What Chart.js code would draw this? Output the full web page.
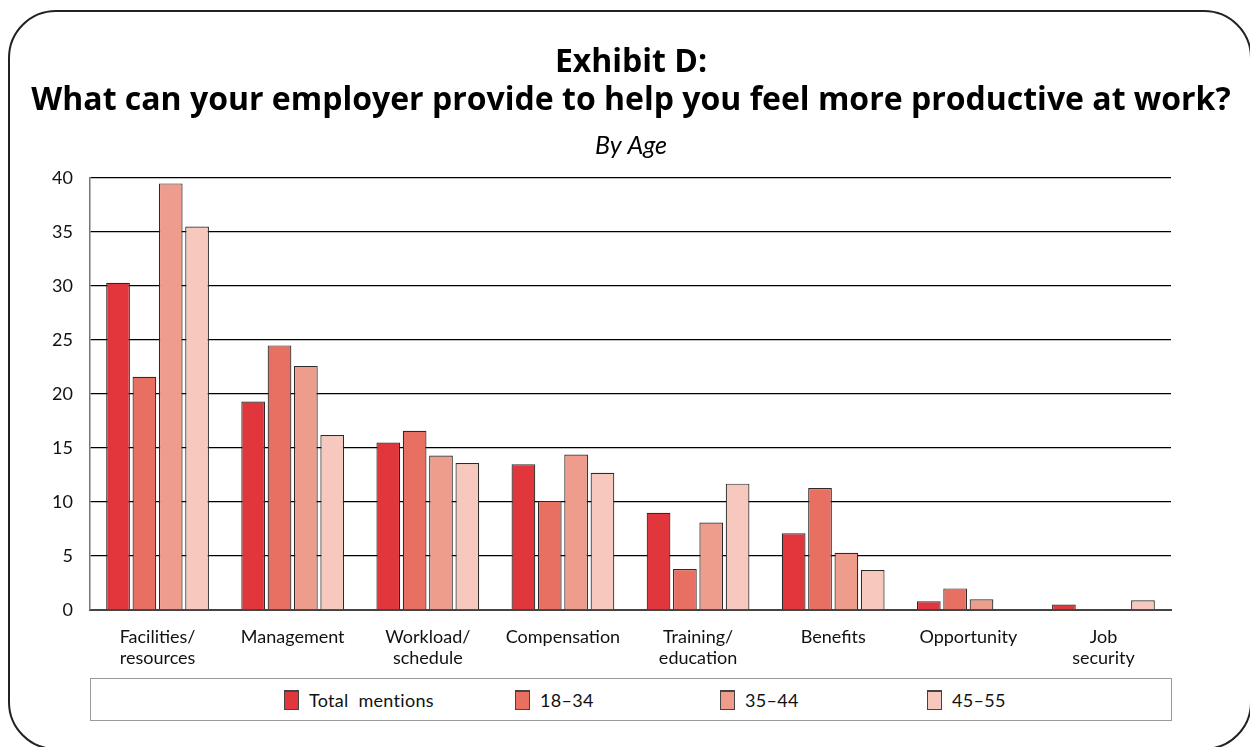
<!DOCTYPE html>
<html>
<head>
<meta charset="utf-8">
<script src="https://cdn.jsdelivr.net/npm/chart.js@4/dist/chart.umd.min.js"></script>
<style>
  html, body { margin: 0; padding: 0; background: #fff; }
  body { width: 1250px; height: 747px; position: relative; overflow: hidden; font-family: Lato, "Open Sans", sans-serif; }
  #frame {
    position: absolute; left: 8px; top: 10px; width: 1244px; height: 740px;
    box-sizing: border-box; border: 2.5px solid #222; border-radius: 48px;
  }
  #wrap { position: absolute; left: 0; top: 0; width: 1250px; height: 747px; }
  #legend {
    position: absolute; left: 90px; top: 678px; width: 1082px; height: 43px;
    box-sizing: border-box; border: 1.5px solid #9a9a9a; background: #fff;
    display: flex; align-items: center; padding-left: 193px;
    font-size: 18px; letter-spacing: 0.3px; color: #111;
  }
  .item { display: flex; align-items: center; }
  .swatch { width: 15px; height: 20px; box-sizing: border-box; border: 1px solid #444; border-top: 2px solid #444; margin-right: 10px; }
</style>
</head>
<body>
<div id="frame"></div>
<div id="wrap"><canvas id="chart" width="1250" height="747"></canvas></div>
<div id="legend"></div>
<script>
(function () {
    "use strict";

    const categories = [
        ["Facilities/", "resources"],
        "Management",
        ["Workload/", "schedule"],
        "Compensation",
        ["Training/", "education"],
        "Benefits",
        "Opportunity",
        ["Job", "security"]
    ];
    const seriesNames = ["Total  mentions", "18\u201334", "35\u201344", "45\u201355"];
    const totalMentions = [30.3, 19.3, 15.5, 13.5, 9.0, 7.1, 0.8, 0.5];
    const age18to34 = [21.6, 24.5, 16.6, 10.1, 3.8, 11.3, 2.0, 0];
    const age35to44 = [39.5, 22.6, 14.3, 14.4, 8.1, 5.3, 1.0, 0.1];
    const age45to55 = [35.5, 16.2, 13.6, 12.7, 11.7, 3.7, 0, 0.9];
    const yTicks = [0, 5, 10, 15, 20, 25, 30, 35, 40];

    const colors = ["#E2363D", "#E87063", "#EE9C8B", "#F7C9BE"];
    const values = [totalMentions, age18to34, age35to44, age45to55];

    const fontFamily = "Lato, 'Open Sans', sans-serif";

    const ctx = document.getElementById("chart").getContext("2d");

    new Chart(ctx, {
        type: "bar",
        data: {
            labels: categories,
            datasets: values.map(function (v, i) {
                return {
                    label: seriesNames[i],
                    data: v,
                    backgroundColor: colors[i],
                    borderColor: "#2b2b2b",
                    borderWidth: 1.2,
                    categoryPercentage: 0.78,
                    barPercentage: 0.9
                };
            })
        },
        options: {
            responsive: false,
            animation: false,
            layout: {
                padding: { left: 12, right: 0, top: 0, bottom: 77 }
            },
            plugins: {
                legend: { display: false },
                tooltip: { enabled: false },
                title: {
                    display: true,
                    text: ["Exhibit D:", "What can your employer provide to help you feel more productive at work?"],
                    color: "#000",
                    font: { family: "'Open Sans', Lato, sans-serif", size: 32, weight: "bold", lineHeight: "38px" },
                    padding: { top: 44, bottom: 0 }
                },
                subtitle: {
                    display: true,
                    text: "By Age",
                    color: "#000",
                    font: { family: fontFamily, size: 25, style: "italic", lineHeight: "28px" },
                    padding: { top: 12, bottom: 18 }
                }
            },
            scales: {
                x: {
                    grid: { display: false },
                    border: { color: "#444", width: 2 },
                    ticks: {
                        color: "#111",
                        padding: 8,
                        maxRotation: 0,
                        autoSkip: false,
                        font: { family: fontFamily, size: 18, lineHeight: 1.2 }
                    },
                    afterFit: function (scale) { scale.height = 60; }
                },
                y: {
                    min: 0,
                    max: 40,
                    afterBuildTicks: function (scale) {
                        scale.ticks = yTicks.map(function (t) { return { value: t }; });
                    },
                    grid: {
                        color: "#000",
                        lineWidth: 1.3,
                        drawTicks: false
                    },
                    border: { color: "#777", width: 1.5 },
                    ticks: {
                        color: "#111",
                        padding: 17,
                        font: { family: fontFamily, size: 18 }
                    },
                    afterFit: function (scale) { scale.width = 78; }
                },
                // empty right-hand spacer so the titles centre on the whole frame
                spacer: {
                    type: "linear",
                    position: "right",
                    display: true,
                    grid: { display: false, drawTicks: false },
                    border: { display: false },
                    ticks: { display: false },
                    afterFit: function (scale) { scale.width = 79; }
                }
            }
        }
    });

    // legend box under the chart
    const legend = document.getElementById("legend");
    const itemWidths = [231, 205, 207, 0];
    seriesNames.forEach(function (name, i) {
        const item = document.createElement("div");
        item.className = "item";
        if (itemWidths[i]) item.style.width = itemWidths[i] + "px";
        const sw = document.createElement("div");
        sw.className = "swatch";
        sw.style.background = colors[i];
        const tx = document.createElement("span");
        tx.textContent = name;
        tx.style.whiteSpace = "pre";
        item.appendChild(sw);
        item.appendChild(tx);
        legend.appendChild(item);
    });
})();
</script>
</body>
</html>
